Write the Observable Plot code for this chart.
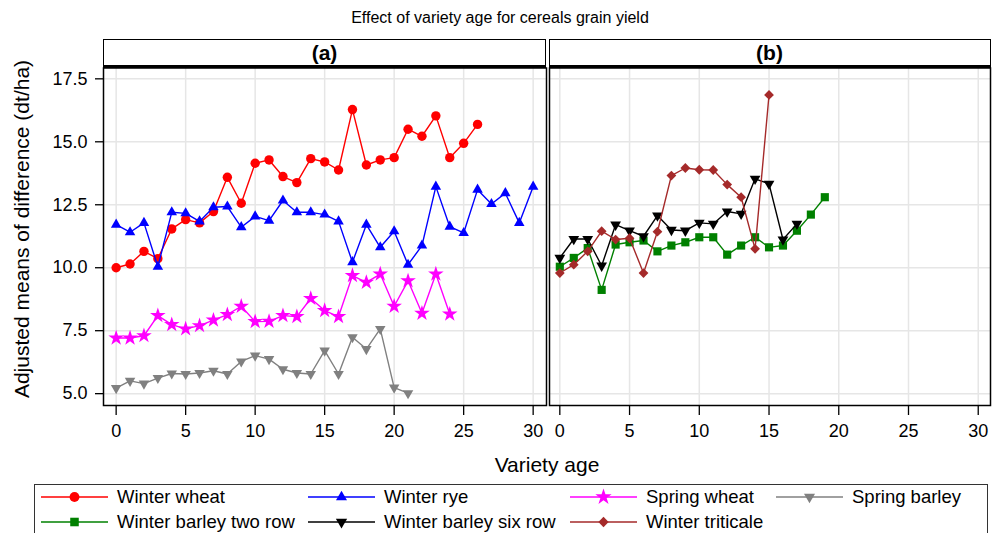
<!DOCTYPE html>
<html><head><meta charset="utf-8">
<script src="https://cdn.jsdelivr.net/npm/d3@7"></script>
<script src="https://cdn.jsdelivr.net/npm/@observablehq/plot@0.6"></script>
<style>
body{margin:0;background:#fff;font-family:"Liberation Sans",Arial,sans-serif;}
#root{position:relative;width:1000px;height:533px;overflow:hidden;background:#fff;color:#000;}
.abs{position:absolute;}
</style></head><body><div id="root"></div>
<script>
// ---- data ----
const titleText = "Effect of variety age for cereals grain yield";
const panelLabels = ["(a)", "(b)"];
const xLabel = "Variety age";
const yLabel = "Adjusted means of difference (dt/ha)";
const xTicks = [0, 5, 10, 15, 20, 25, 30];
const yTicks = [5.0, 7.5, 10.0, 12.5, 15.0, 17.5];

const seriesNames = ["Winter wheat", "Winter rye", "Spring wheat", "Spring barley",
  "Winter barley two row", "Winter barley six row", "Winter triticale"];

// values indexed by variety age 0,1,2,...
const winterWheat = [10.0,10.15,10.65,10.36,11.54,11.91,11.78,12.23,13.59,12.56,14.15,14.28,13.62,13.38,14.33,14.2,13.88,16.28,14.08,14.28,14.37,15.5,15.22,16.03,14.37,14.94,15.69];
const winterRye = [11.71,11.41,11.78,10.04,12.2,12.16,11.84,12.4,12.43,11.61,12.04,11.87,12.67,12.2,12.2,12.11,11.84,10.22,11.71,10.81,11.45,10.12,10.88,13.22,11.63,11.38,13.1,12.53,12.96,11.78,13.22];
const springWheat = [7.21,7.21,7.3,8.1,7.74,7.57,7.7,7.92,8.14,8.47,7.86,7.87,8.1,8.06,8.78,8.3,8.06,9.69,9.42,9.75,8.47,9.48,8.19,9.75,8.16];
const springBarley = [5.22,5.51,5.4,5.62,5.8,5.78,5.82,5.91,5.78,6.28,6.51,6.37,5.97,5.82,5.78,6.71,5.78,7.24,6.77,7.57,5.24,5.02];
const winterBarleyTwoRow = [10.04,10.39,10.78,9.12,10.92,11.01,11.08,10.65,10.88,11.01,11.21,11.21,10.52,10.88,11.21,10.81,10.88,11.47,12.11,12.8];
const winterBarleySixRow = [10.39,11.14,11.14,10.08,11.71,11.47,11.25,12.07,11.5,11.47,11.78,11.74,12.23,12.14,13.53,13.33,11.12,11.74];
const winterTriticale = [9.79,10.12,10.65,11.45,11.12,11.17,9.79,11.43,13.66,13.96,13.89,13.88,13.3,12.8,10.75,16.86];

// ---- styles ----
const styles = {
  "Winter wheat": {color: "#ff0000", symbol: "circle", r: 4.7, rotate: 0, d3sym: d3.symbolCircle},
  "Winter rye": {color: "#0000ff", symbol: "triangle", r: 3.9, rotate: 0, d3sym: d3.symbolTriangle},
  "Spring wheat": {color: "#ff00ff", symbol: "star", r: 4.9, rotate: 0, d3sym: d3.symbolStar},
  "Spring barley": {color: "#808080", symbol: "triangle", r: 3.9, rotate: 180, d3sym: d3.symbolTriangle},
  "Winter barley two row": {color: "#008000", symbol: "square", r: 4.6, rotate: 0, d3sym: d3.symbolSquare},
  "Winter barley six row": {color: "#000000", symbol: "triangle", r: 4.0, rotate: 180, d3sym: d3.symbolTriangle},
  "Winter triticale": {color: "#a52a2a", symbol: "square", r: 3.9, rotate: 45, d3sym: d3.symbolSquare}
};
const seriesValues = {
  "Winter wheat": winterWheat, "Winter rye": winterRye, "Spring wheat": springWheat,
  "Spring barley": springBarley, "Winter barley two row": winterBarleyTwoRow,
  "Winter barley six row": winterBarleySixRow, "Winter triticale": winterTriticale
};
const panelA = ["Winter wheat", "Winter rye", "Spring wheat", "Spring barley"];
const panelB = ["Winter barley two row", "Winter barley six row", "Winter triticale"];

const FONT = '"Liberation Sans", Arial, sans-serif';
const root = document.getElementById("root");

function addDiv(css, text) {
  const d = document.createElement("div");
  d.className = "abs";
  d.style.cssText = css;
  if (text != null) d.textContent = text;
  root.appendChild(d);
  return d;
}

function panel(names, opts) {
  const marks = [
    Plot.gridX(xTicks, {stroke: "#e6e6e6", strokeOpacity: 1, strokeWidth: 1.5}),
    Plot.gridY(yTicks, {stroke: "#e6e6e6", strokeOpacity: 1, strokeWidth: 1.5})
  ];
  for (const name of names) {
    const s = styles[name];
    const data = seriesValues[name].map((v, i) => ({age: i, value: v, series: name}));
    marks.push(Plot.line(data, {x: "age", y: "value", stroke: s.color, strokeWidth: 1.4}));
    marks.push(Plot.dot(data, {x: "age", y: "value", symbol: s.symbol, r: s.r, fill: s.color, stroke: "none", rotate: s.rotate}));
  }
  marks.push(Plot.frame({stroke: "#000", strokeWidth: 1.5}));
  marks.push(Plot.axisX(xTicks, {tickSize: 10, tickPadding: 9, label: null, stroke: "#000", strokeWidth: 1.3}));
  if (opts.showY) {
    marks.push(Plot.axisY(yTicks, {tickSize: 8, tickPadding: 8, label: null, tickFormat: d => d.toFixed(1), stroke: "#000", strokeWidth: 1.3}));
  }
  const svg = Plot.plot({
    width: opts.width, height: 389,
    marginLeft: opts.mL, marginRight: opts.mR, marginTop: 1.5, marginBottom: 50,
    x: {domain: opts.xDomain},
    y: opts.showY ? {domain: [4.53, 17.93]} : {domain: [4.53, 17.93], axis: null},
    style: {fontSize: "18px", fontFamily: FONT, color: "#000", background: "transparent", overflow: "visible"},
    marks
  });
  const wrap = addDiv(`left:${opts.left}px;top:66px;`);
  wrap.appendChild(svg);
}

panel(panelA, {left: 0, width: 548, mL: 103, mR: 2, xDomain: [-0.91, 30.96], showY: true});
panel(panelB, {left: 548, width: 443, mL: 1, mR: 1, xDomain: [-0.74, 30.88], showY: false});

// strips
addDiv(`left:103px;top:39px;width:443px;height:29px;box-sizing:border-box;border:1.5px solid #000;border-bottom:3.5px solid #000;background:#fff;text-align:center;font:bold 21px ${FONT};line-height:25px;`, panelLabels[0]);
addDiv(`left:548.5px;top:39px;width:442px;height:29px;box-sizing:border-box;border:1.5px solid #000;border-bottom:3.5px solid #000;background:#fff;text-align:center;font:bold 21px ${FONT};line-height:25px;`, panelLabels[1]);

// title & axis labels
addDiv(`left:0;top:8px;width:1000px;text-align:center;font:16px ${FONT};line-height:20px;`, titleText);
addDiv(`left:397px;top:452px;width:300px;text-align:center;font:21px ${FONT};line-height:26px;`, xLabel);
addDiv(`left:-178px;top:216px;width:400px;text-align:center;font:21px ${FONT};line-height:26px;transform:rotate(-90deg);transform-origin:50% 50%;`, yLabel);

// legend
addDiv(`left:34px;top:484px;width:954px;height:70px;box-sizing:border-box;border:1.5px solid #333;`);
const legendCols = [41, 308, 570, 776];
const legendRows = [497, 522];
seriesNames.forEach((name, i) => {
  const s = styles[name];
  const col = i < 4 ? i : i - 4;
  const row = i < 4 ? 0 : 1;
  const item = addDiv(`left:${legendCols[col]}px;top:${legendRows[row] - 11}px;height:22px;white-space:nowrap;font:18.5px ${FONT};line-height:22px;display:flex;align-items:center;`);
  const sw = d3.create("svg").attr("width", 67).attr("height", 22).style("flex", "none");
  sw.append("line").attr("x1", 0).attr("x2", 67).attr("y1", 11).attr("y2", 11).attr("stroke", s.color).attr("stroke-width", 1.6);
  sw.append("path").attr("d", d3.symbol(s.d3sym, Math.PI * s.r * s.r * 1.1)())
    .attr("transform", `translate(33.5,11) rotate(${s.rotate})`).attr("fill", s.color);
  item.appendChild(sw.node());
  const t = document.createElement("span");
  t.style.marginLeft = "9px";
  t.textContent = name;
  item.appendChild(t);
});
</script>
</body></html>
